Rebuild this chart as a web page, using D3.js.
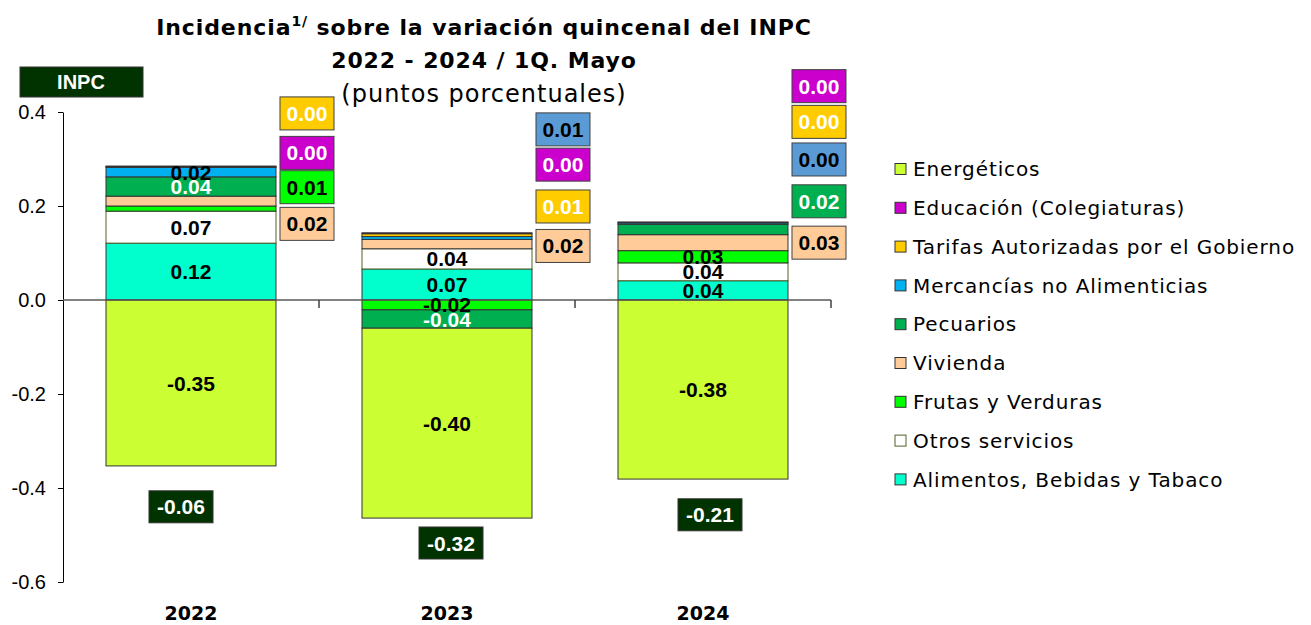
<!DOCTYPE html>
<html>
<head>
<meta charset="utf-8">
<script src="https://cdn.jsdelivr.net/npm/d3@7"></script>
<style>
  body { margin: 0; background: #fff; }
  text { font-family: "Liberation Sans", Arial, sans-serif; }
  .gothic { font-family: "DejaVu Sans", sans-serif; }
</style>
</head>
<body>
<svg id="chart" width="1311" height="625"></svg>
<script>
// categories
const years = ['2022', '2023', '2024'];
const seriesNames = [
  'Alimentos, Bebidas y Tabaco',
  'Otros servicios',
  'Frutas y Verduras',
  'Vivienda',
  'Pecuarios',
  'Mercancías no Alimenticias',
  'Tarifas Autorizadas por el Gobierno',
  'Educación (Colegiaturas)',
  'Energéticos'
];

// incidence by group (puntos porcentuales), one value per year
const alimentos = [0.121, 0.066, 0.041];
const otros = [0.068, 0.043, 0.038];
const frutas = [0.011, -0.021, 0.026];
const vivienda = [0.021, 0.020, 0.034];
const pecuarios = [0.041, -0.039, 0.022];
const mercancias = [0.020, 0.006, 0.003];
const tarifas = [0.002, 0.006, 0.001];
const educacion = [0.001, 0.002, 0.001];
const energeticos = [-0.353, -0.404, -0.381];
const inpc = [-0.06, -0.32, -0.21];

const yTicks = [0.4, 0.2, 0.0, -0.2, -0.4, -0.6];

// ---- styling / layout ----
const fills = ['#00FFCC', '#FFFFFF', '#00FF00', '#FFCC99', '#00B050', '#00B0F0', '#FFCC00', '#CC00CC', '#CCFF33'];
const boxFills = ['#00FFCC', '#FFFFFF', '#00FF00', '#FFCC99', '#00B050', '#5B9BD5', '#FFCC00', '#CC00CC', '#CCFF33'];
const boxText = ['#000', '#000', '#000', '#000', '#fff', '#000', '#fff', '#fff', '#000'];
const strokes = ['#333', '#4F6228', '#333', '#333', '#333', '#333', '#333', '#333', '#333'];
const inpcColor = '#003300';

// labels placed in boxes beside each bar: [series index, anchor value]
const callouts = [
  [[6, 0.397], [7, 0.313], [2, 0.240], [3, 0.162]],
  [[5, 0.363], [7, 0.288], [6, 0.199], [3, 0.115]],
  [[7, 0.455], [6, 0.379], [5, 0.299], [4, 0.210], [3, 0.122]]
];
// INPC total boxes: [dx from bar centre, anchor value]
const inpcAnchor = [[-10, -0.440], [4, -0.517], [7, -0.457]];

const allSeries = [alimentos, otros, frutas, vivienda, pecuarios, mercancias, tarifas, educacion, energeticos];
const rows = years.map((y, i) => ({ year: y, vals: allSeries.map(s => s[i]) }));

const svg = d3.select('#chart');

const x = d3.scaleBand()
  .domain(years)
  .range([63, 831])
  .paddingInner(0.336)
  .paddingOuter(0.168);

const y = d3.scaleLinear()
  .domain([-0.6, 0.4])
  .range([582, 112]);

const stack = d3.stack()
  .keys(d3.range(seriesNames.length))
  .value((d, k) => d.vals[k])
  .offset(d3.stackOffsetDiverging);
const stacked = stack(rows);

// y axis
const yAxis = svg.append('g')
  .attr('transform', 'translate(63,0)')
  .call(d3.axisLeft(y).tickValues(yTicks).tickFormat(d => d.toFixed(1)).tickSize(5).tickSizeOuter(0));
yAxis.select('.domain').attr('stroke', '#000');
yAxis.selectAll('.tick line').attr('stroke', '#000');
yAxis.selectAll('.tick text')
  .attr('x', -17)
  .attr('font-size', 20)
  .attr('font-family', '"Liberation Sans", Arial, sans-serif')
  .attr('fill', '#000');

// bars
const layers = svg.append('g').selectAll('g')
  .data(stacked)
  .join('g')
  .attr('fill', s => fills[s.key])
  .attr('stroke', s => strokes[s.key]);

layers.selectAll('rect')
  .data(s => s)
  .join('rect')
  .attr('x', d => x(d.data.year))
  .attr('width', x.bandwidth())
  .attr('y', d => y(Math.max(d[0], d[1])))
  .attr('height', d => Math.abs(y(d[0]) - y(d[1])))
  .attr('stroke-width', 1);

// zero line with category separators
const x0 = x.range()[0], x1 = x.range()[1];
svg.append('line')
  .attr('x1', x0).attr('x2', x1)
  .attr('y1', y(0)).attr('y2', y(0))
  .attr('stroke', '#595959').attr('stroke-width', 1.5);
svg.append('g').selectAll('line')
  .data(years)
  .join('line')
  .attr('x1', d => x(d) - x.step() * x.paddingInner() / 2 + x.step())
  .attr('x2', d => x(d) - x.step() * x.paddingInner() / 2 + x.step())
  .attr('y1', y(0)).attr('y2', y(0) + 8)
  .attr('stroke', '#404040').attr('stroke-width', 1.5);

// labels inside the bars (series without a box)
const fmt = v => v.toFixed(2);
const inside = [];
stacked.forEach(s => {
  s.forEach((d, i) => {
    const boxed = callouts[i].some(c => c[0] === s.key);
    if (!boxed) inside.push({ key: s.key, i, d });
  });
});
svg.append('g').selectAll('text')
  .data(inside)
  .join('text')
  .attr('x', p => x(years[p.i]) + x.bandwidth() / 2)
  .attr('y', p => (y(p.d[0]) + y(p.d[1])) / 2)
  .attr('dy', '0.36em')
  .attr('text-anchor', 'middle')
  .attr('font-size', 21)
  .attr('font-weight', 'bold')
  .attr('fill', p => p.key === 4 ? '#fff' : '#000')
  .text(p => fmt(rows[p.i].vals[p.key]));

// boxed labels beside the bars
const boxW = 54, boxH = 33;
const boxData = [];
callouts.forEach((list, i) => list.forEach(c => boxData.push({ i, key: c[0], v: c[1] })));
const boxes = svg.append('g').selectAll('g')
  .data(boxData)
  .join('g')
  .attr('transform', b => `translate(${x(years[b.i]) + x.bandwidth() + 4},${y(b.v) - boxH / 2})`);
boxes.append('rect')
  .attr('width', boxW).attr('height', boxH)
  .attr('fill', b => boxFills[b.key])
  .attr('stroke', '#404040').attr('stroke-width', 1);
boxes.append('text')
  .attr('x', boxW / 2).attr('y', boxH / 2)
  .attr('dy', '0.36em')
  .attr('text-anchor', 'middle')
  .attr('font-size', 21)
  .attr('font-weight', 'bold')
  .attr('fill', b => boxText[b.key])
  .text(b => fmt(rows[b.i].vals[b.key]));

// INPC totals
const inpcW = 64, inpcH = 32;
const totals = svg.append('g').selectAll('g')
  .data(years)
  .join('g')
  .attr('transform', (d, i) => `translate(${x(d) + x.bandwidth() / 2 + inpcAnchor[i][0] - inpcW / 2},${y(inpcAnchor[i][1]) - inpcH / 2})`);
totals.append('rect')
  .attr('width', inpcW).attr('height', inpcH)
  .attr('fill', inpcColor).attr('stroke', '#333');
totals.append('text')
  .attr('x', inpcW / 2).attr('y', inpcH / 2)
  .attr('dy', '0.36em')
  .attr('text-anchor', 'middle')
  .attr('font-size', 21)
  .attr('font-weight', 'bold')
  .attr('fill', '#fff')
  .text((d, i) => fmt(inpc[i]));

// INPC legend tag
svg.append('rect')
  .attr('x', 20).attr('y', 67).attr('width', 123).attr('height', 30)
  .attr('fill', inpcColor).attr('stroke', '#333');
svg.append('text')
  .attr('x', 81).attr('y', 82).attr('dy', '0.36em')
  .attr('text-anchor', 'middle')
  .attr('font-size', 20).attr('font-weight', 'bold')
  .attr('fill', '#fff')
  .text('INPC');

// category labels
svg.append('g').selectAll('text')
  .data(years)
  .join('text')
  .attr('class', 'gothic')
  .attr('x', d => x(d) + x.bandwidth() / 2)
  .attr('y', 620)
  .attr('text-anchor', 'middle')
  .attr('font-size', 19)
  .attr('font-weight', 'bold')
  .text(d => d);

// title
const title = svg.append('text')
  .attr('class', 'gothic')
  .attr('x', 484).attr('y', 35)
  .attr('text-anchor', 'middle')
  .attr('font-size', 22).attr('font-weight', 'bold')
  .attr('letter-spacing', 0.9);
title.append('tspan').text('Incidencia');
title.append('tspan').attr('font-size', 14).attr('dy', -9).text('1/');
title.append('tspan').attr('dy', 9).text(' sobre la variación quincenal del INPC');

svg.append('text')
  .attr('class', 'gothic')
  .attr('x', 484).attr('y', 68)
  .attr('text-anchor', 'middle')
  .attr('font-size', 22).attr('font-weight', 'bold')
  .attr('letter-spacing', 0.9)
  .text('2022 - 2024 / 1Q. Mayo');

svg.append('text')
  .attr('class', 'gothic')
  .attr('x', 484).attr('y', 102)
  .attr('text-anchor', 'middle')
  .attr('font-size', 24)
  .attr('letter-spacing', 1)
  .text('(puntos porcentuales)');

// legend (top entry is the last series)
const legend = svg.append('g')
  .selectAll('g')
  .data(d3.range(seriesNames.length).reverse())
  .join('g')
  .attr('transform', (k, i) => `translate(895,${169 + i * 38.8})`);
legend.append('rect')
  .attr('x', 0).attr('y', -5.5)
  .attr('width', 11).attr('height', 11)
  .attr('fill', k => fills[k])
  .attr('stroke', k => strokes[k]);
legend.append('text')
  .attr('class', 'gothic')
  .attr('x', 18).attr('dy', '0.36em')
  .attr('font-size', 20)
  .attr('letter-spacing', 0.9)
  .text(k => seriesNames[k]);
</script>
</body>
</html>
